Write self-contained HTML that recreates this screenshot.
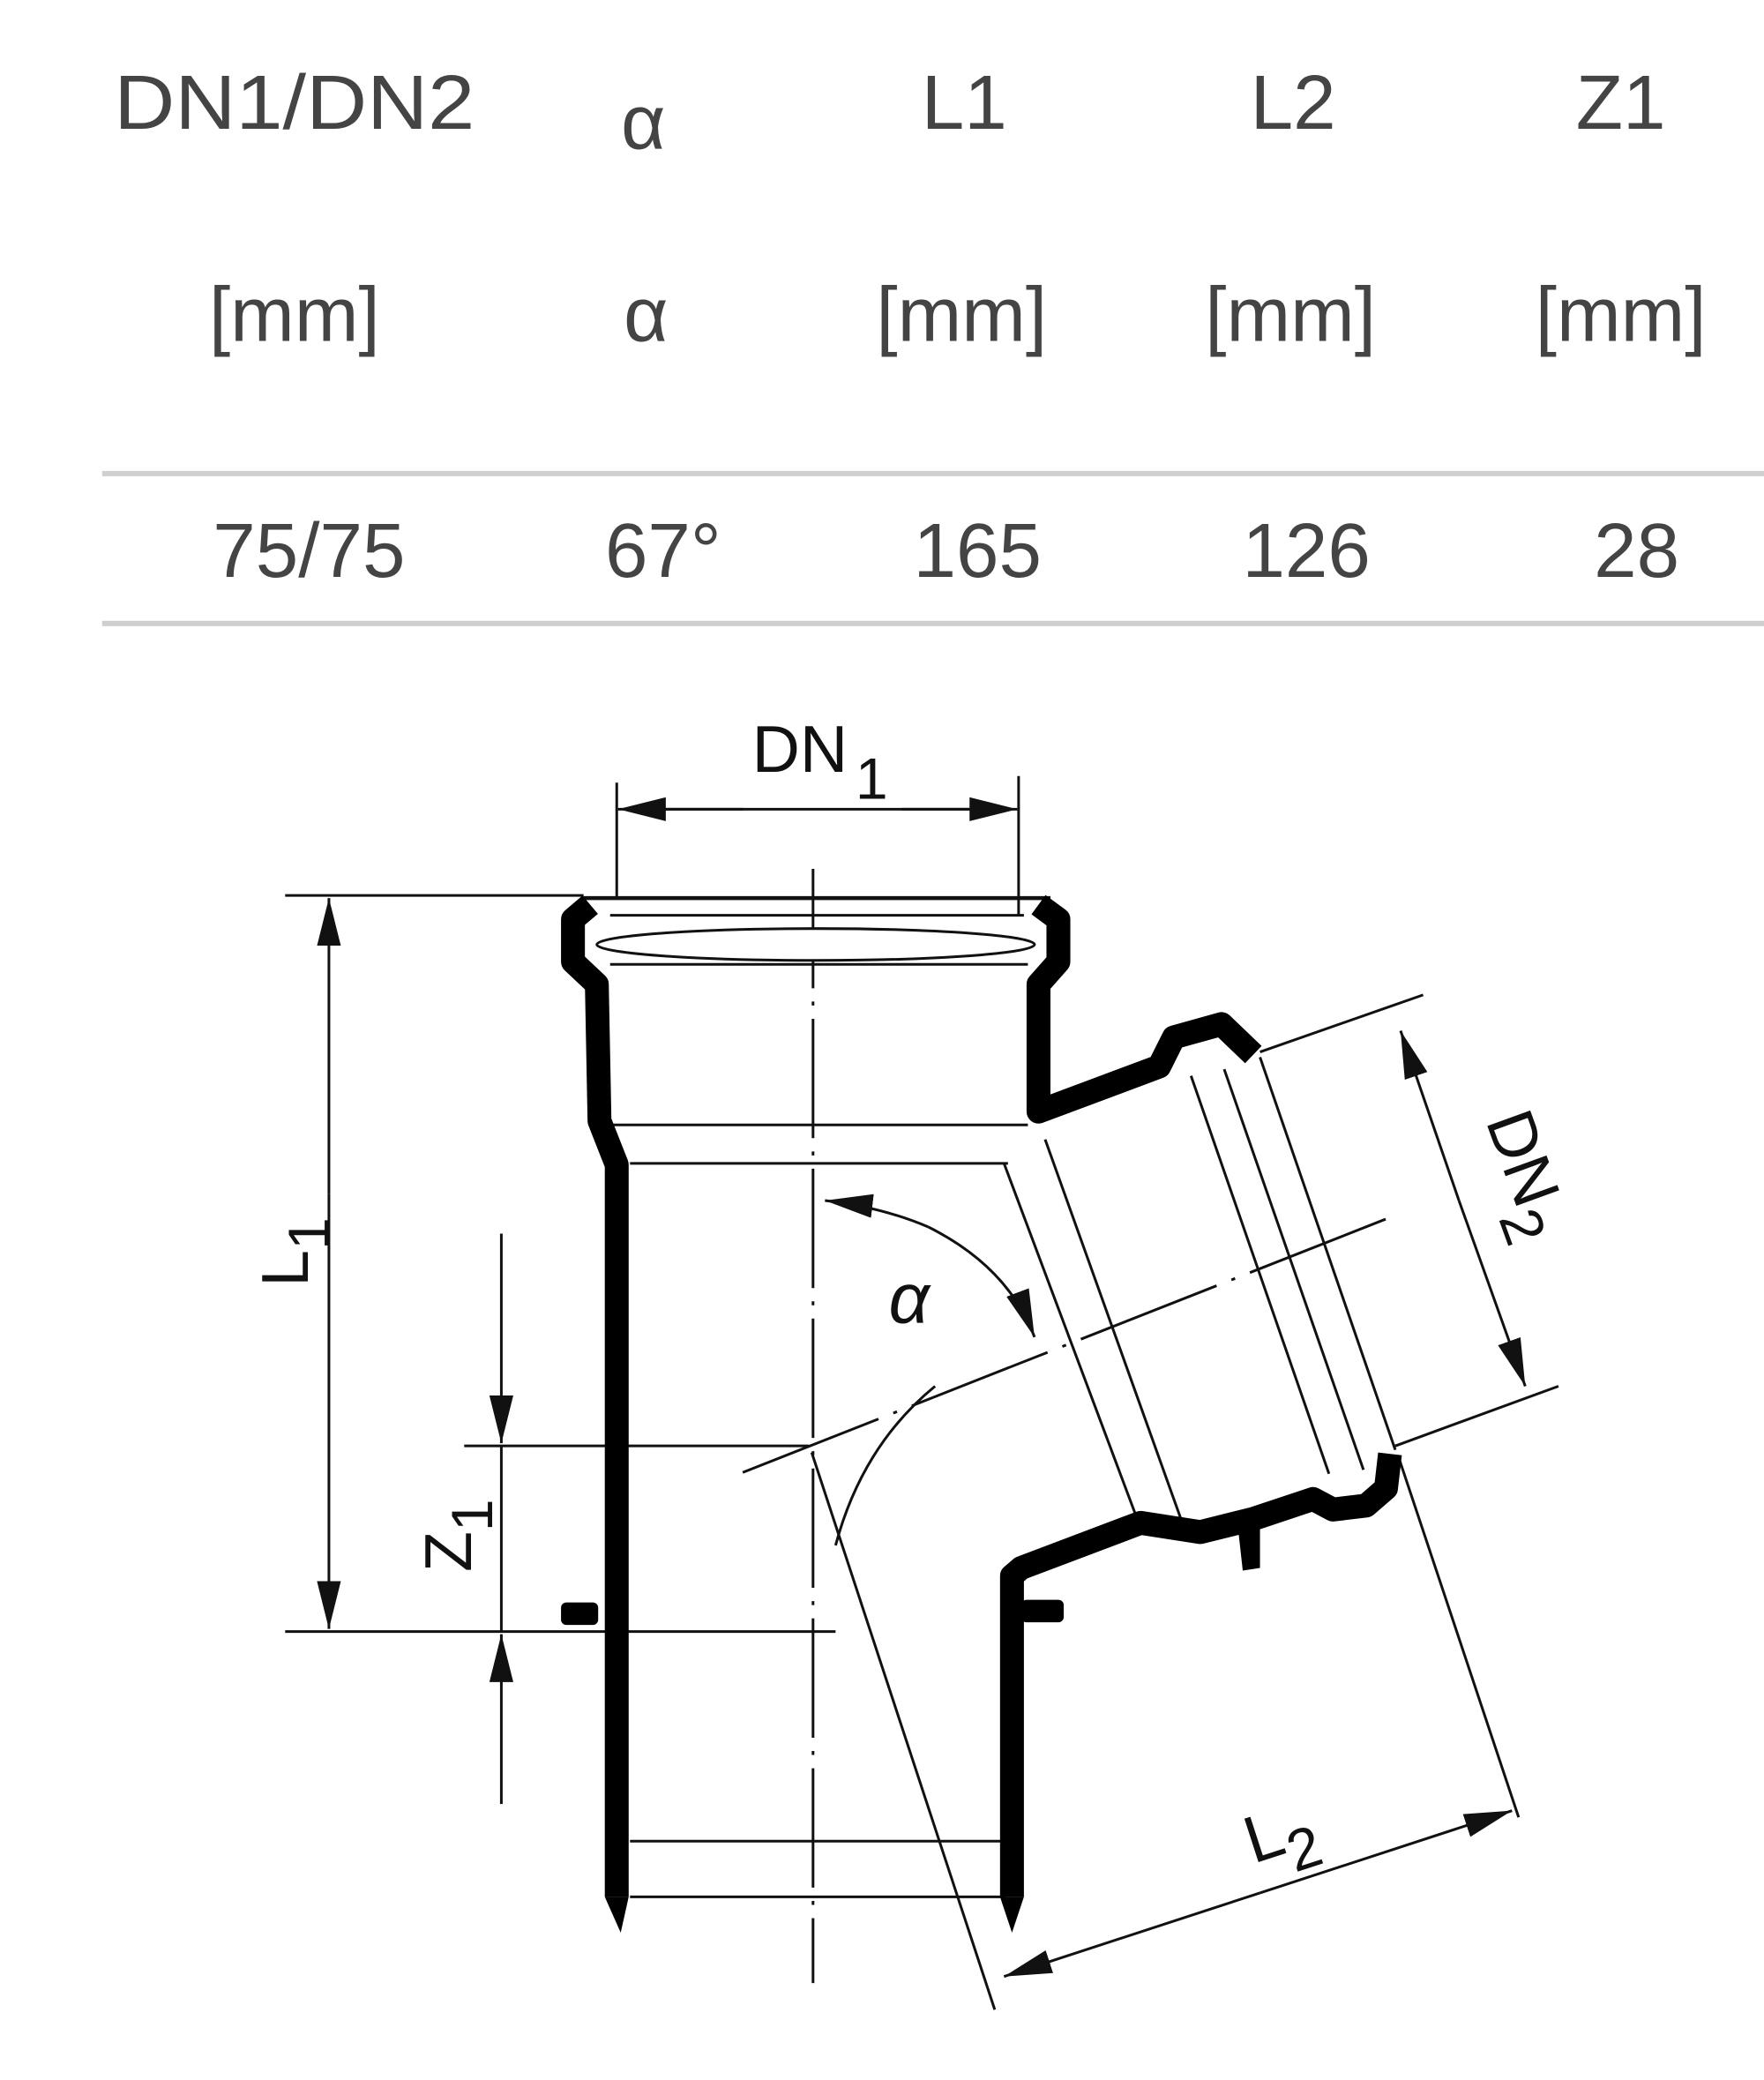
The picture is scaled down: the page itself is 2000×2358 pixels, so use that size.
<!DOCTYPE html>
<html><head><meta charset="utf-8"><style>
html,body{margin:0;padding:0;background:#fff;}
svg{display:block;}
.t{font-family:"Liberation Sans",sans-serif;fill:#444;text-anchor:middle;}
.d{font-family:"Liberation Sans",sans-serif;fill:#111;}
</style></head><body>
<svg width="2000" height="2358" viewBox="0 0 1330 1568" xmlns="http://www.w3.org/2000/svg">
<defs>
<marker id="a" viewBox="0 0 36 18" refX="36" refY="9" markerWidth="36" markerHeight="18" markerUnits="userSpaceOnUse" orient="auto"><path d="M0,0 L36,9 L0,18 Z" fill="#111"/></marker>
</defs>
<g class="t" font-size="58">
<text x="222" y="97" textLength="272" lengthAdjust="spacingAndGlyphs">DN1/DN2</text>
<text x="485" y="112">α</text>
<text x="727" y="97">L1</text>
<text x="975" y="97">L2</text>
<text x="1222" y="97">Z1</text>
<text x="222" y="257">[mm]</text>
<text x="487" y="257">α</text>
<text x="725" y="257">[mm]</text>
<text x="973" y="257">[mm]</text>
<text x="1222" y="257">[mm]</text>
<text x="233" y="435">75/75</text>
<text x="500" y="435">67°</text>
<text x="737" y="435">165</text>
<text x="985" y="435">126</text>
<text x="1234" y="435">28</text>
</g>
<rect x="77" y="355" width="1253" height="4" fill="#cfcfcf"/>
<rect x="77" y="468" width="1253" height="4" fill="#cfcfcf"/>

<g stroke="#111" fill="none" stroke-width="2">
<line x1="465" y1="590" x2="465" y2="677"/>
<line x1="768" y1="585" x2="768" y2="690"/>
<line x1="470" y1="610" x2="762" y2="610"/>
<line x1="560" y1="610" x2="466" y2="610" marker-end="url(#a)"/>
<line x1="680" y1="610" x2="767" y2="610" marker-end="url(#a)"/>
<line x1="613" y1="655" x2="613" y2="1495" stroke-dasharray="90,10,3,10"/>
<line x1="215" y1="675" x2="440" y2="675"/>
<line x1="215" y1="1230" x2="630" y2="1230"/>
<line x1="248" y1="900" x2="248" y2="677" marker-end="url(#a)"/>
<line x1="248" y1="900" x2="248" y2="1228" marker-end="url(#a)"/>
<line x1="378" y1="930" x2="378" y2="1088" marker-end="url(#a)"/>
<line x1="350" y1="1090" x2="610" y2="1090"/>
<line x1="378" y1="1090" x2="378" y2="1230"/>
<line x1="378" y1="1360" x2="378" y2="1232" marker-end="url(#a)"/>
<line x1="440" y1="677" x2="792" y2="677" stroke-width="3"/>
<line x1="460" y1="690" x2="772" y2="690"/>
<line x1="460" y1="727" x2="775" y2="727"/>
<line x1="460" y1="848" x2="775" y2="848"/>
<line x1="475" y1="877" x2="760" y2="877"/>
<line x1="475" y1="1388" x2="758" y2="1388"/>
<line x1="475" y1="1430" x2="758" y2="1430"/>
<line x1="757" y1="877" x2="857" y2="1144"/>
<line x1="788" y1="859" x2="890" y2="1144"/>
<line x1="898" y1="811" x2="1002" y2="1111"/>
<line x1="923" y1="806" x2="1028" y2="1108"/>
<line x1="950" y1="797" x2="1052" y2="1093"/>
<line x1="560" y1="1110" x2="1055" y2="915" stroke-dasharray="110,12,3,12"/>
<line x1="950" y1="793" x2="1073" y2="750"/>
<line x1="1052" y1="1090" x2="1175" y2="1045"/>
<line x1="1100" y1="905" x2="1056" y2="777" marker-end="url(#a)"/>
<line x1="1100" y1="905" x2="1150" y2="1045" marker-end="url(#a)"/>
<line x1="1055" y1="1100" x2="1145" y2="1370"/>
<line x1="612" y1="1095" x2="750" y2="1515"/>
<line x1="950" y1="1427" x2="1140" y2="1365" marker-end="url(#a)"/>
<line x1="950" y1="1427" x2="757" y2="1490" marker-end="url(#a)"/>
<path d="M700,925 Q760,955 780,1008" marker-end="url(#a)"/>
<path d="M700,925 Q665,910 622,905" marker-end="url(#a)"/>
<path d="M705,1045 Q650,1090 630,1165"/>
</g>
<g stroke="#000" fill="none" stroke-width="18" stroke-linejoin="round">
<polyline points="445,682 432,693 432,725 450,742 452,845 465,878 465,1430"/>
<polyline points="783,682 798,693 798,725 783,742 783,838 874,804 885,782 921,772 945,795"/>
<polyline points="1048,1096 1045,1122 1030,1135 1005,1138 990,1130 945,1145 905,1155 860,1148 770,1182 763,1188 763,1430"/>
</g>
<g fill="#000">
<path d="M456,1430 L474,1430 L468,1457 Z"/>
<path d="M754,1430 L772,1430 L763,1457 Z"/>
<rect x="423" y="1208" width="28" height="17" rx="4"/>
<rect x="770" y="1206" width="32" height="17" rx="4"/>
<path d="M933,1148 L950,1148 L950,1182 L937,1184 Z"/>
</g>
<ellipse cx="615" cy="712" rx="165" ry="12" fill="#fff" stroke="#111" stroke-width="2"/>
<text class="d" x="567" y="582" font-size="50">DN</text>
<text class="d" x="645" y="602" font-size="44">1</text>
<text class="d" transform="translate(232,970) rotate(-90)" font-size="50">L<tspan dy="16" font-size="44">1</tspan></text>
<text class="d" transform="translate(355,1185) rotate(-90)" font-size="50">Z<tspan dy="16" font-size="44">1</tspan></text>
<text class="d" x="670" y="997" font-size="54" font-style="italic" font-family="Liberation Serif,serif">α</text>
<text class="d" transform="translate(1120,845) rotate(70)" font-size="50">DN<tspan dy="16" font-size="44">2</tspan></text>
<text class="d" transform="translate(945,1405) rotate(-18)" font-size="50">L<tspan dy="16" font-size="44">2</tspan></text>
</svg>
</body></html>
